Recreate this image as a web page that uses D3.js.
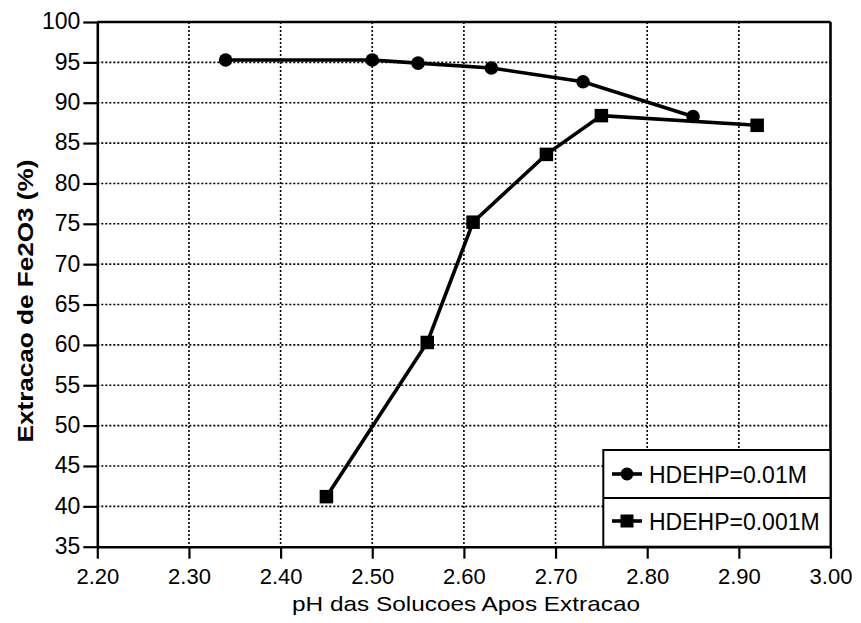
<!DOCTYPE html>
<html>
<head>
<meta charset="utf-8">
<script src="https://cdn.jsdelivr.net/npm/d3@7"></script>
<style>
  html, body { margin: 0; padding: 0; background: #fff; }
  svg { display: block; }
  text { font-family: "Liberation Sans", Arial, sans-serif; fill: #000; }
</style>
</head>
<body>
<svg id="chart" width="861" height="623"></svg>
<script>
// Extraction of Fe2O3 vs. solution pH for two HDEHP concentrations
const xTicks = [2.20, 2.30, 2.40, 2.50, 2.60, 2.70, 2.80, 2.90, 3.00];
const yTicks = [35, 40, 45, 50, 55, 60, 65, 70, 75, 80, 85, 90, 95, 100];

const seriesNames = ["HDEHP=0.01M", "HDEHP=0.001M"];
const phA = [2.34, 2.50, 2.55, 2.63, 2.73, 2.85];
const extA = [95.3, 95.3, 94.9, 94.3, 92.6, 88.3];
const phB = [2.45, 2.56, 2.61, 2.69, 2.75, 2.92];
const extB = [41.2, 60.3, 75.2, 83.6, 88.4, 87.2];

const xTitle = "pH das Solucoes Apos Extracao";
const yTitle = "Extracao de Fe2O3 (%)";

const svg = d3.select("#chart");
const L = 97.3, R = 830.5, T = 22, B = 546.7;

const x = d3.scaleLinear().domain([2.2, 3.0]).range([L, R]);
const y = d3.scaleLinear().domain([35, 100]).range([B, T]);

// dotted grid
const grid = svg.append("g");
grid.selectAll("line.v")
  .data(xTicks.filter(v => v > 2.2 + 1e-9 && v < 3.0 - 1e-9))
  .join("line")
  .attr("x1", d => x(d)).attr("x2", d => x(d))
  .attr("y1", T).attr("y2", B)
  .attr("stroke", "#000").attr("stroke-width", 1.6)
  .attr("stroke-dasharray", "2,2");
grid.selectAll("line.h")
  .data(yTicks.filter(v => v > 35 && v < 100))
  .join("line")
  .attr("x1", L).attr("x2", R)
  .attr("y1", d => y(d)).attr("y2", d => y(d))
  .attr("stroke", "#000").attr("stroke-width", 1.6)
  .attr("stroke-dasharray", "2,2");

// axes
const xAxis = d3.axisBottom(x).tickValues(xTicks).tickFormat(d3.format(".2f"))
  .tickSizeInner(12).tickSizeOuter(0).tickPadding(10);
const yAxis = d3.axisLeft(y).tickValues(yTicks).tickFormat(d3.format("d"))
  .tickSizeInner(14).tickSizeOuter(0).tickPadding(3);

const gx = svg.append("g").attr("transform", `translate(0,${B})`).call(xAxis);
const gy = svg.append("g").attr("transform", `translate(${L},0)`).call(yAxis);
[gx, gy].forEach(g => {
  g.select(".domain").attr("stroke", "#000").attr("stroke-width", 2.6);
  g.selectAll(".tick line").attr("stroke", "#000").attr("stroke-width", 2.2);
  g.selectAll(".tick text").attr("font-size", 22)
    .attr("font-family", "'Liberation Sans', Arial, sans-serif").attr("fill", "#000");
});
gy.selectAll(".tick text").attr("font-size", 23).attr("dy", "0.3em");

// frame top and right
svg.append("line").attr("x1", L).attr("x2", R).attr("y1", T).attr("y2", T)
  .attr("stroke", "#000").attr("stroke-width", 2.4);
svg.append("line").attr("x1", R).attr("x2", R).attr("y1", T).attr("y2", B)
  .attr("stroke", "#000").attr("stroke-width", 2.6);

// series
const line = d3.line().x(d => x(d[0])).y(d => y(d[1]));
const dataA = phA.map((p, i) => [p, extA[i]]);
const dataB = phB.map((p, i) => [p, extB[i]]);

svg.append("path").datum(dataA).attr("d", line)
  .attr("fill", "none").attr("stroke", "#000").attr("stroke-width", 3.6);
svg.append("path").datum(dataB).attr("d", line)
  .attr("fill", "none").attr("stroke", "#000").attr("stroke-width", 3.6);

svg.selectAll("circle.mA").data(dataA).join("circle")
  .attr("cx", d => x(d[0])).attr("cy", d => y(d[1])).attr("r", 6.8).attr("fill", "#000");
const sq = 13.5;
svg.selectAll("rect.mB").data(dataB).join("rect")
  .attr("x", d => x(d[0]) - sq / 2).attr("y", d => y(d[1]) - sq / 2)
  .attr("width", sq).attr("height", sq).attr("fill", "#000");

// axis titles
svg.append("text")
  .attr("x", 466).attr("y", 611)
  .attr("text-anchor", "middle")
  .attr("font-size", 21)
  .attr("textLength", 348).attr("lengthAdjust", "spacingAndGlyphs")
  .text(xTitle);
svg.append("text")
  .attr("transform", "translate(33,301) rotate(-90)")
  .attr("text-anchor", "middle")
  .attr("font-size", 22).attr("font-weight", "bold")
  .attr("textLength", 283).attr("lengthAdjust", "spacingAndGlyphs")
  .text(yTitle);

// legend
const lg = svg.append("g");
const lx0 = 603.3, lx1 = R, ly0 = 450, ly1 = B, lmid = 498;
lg.append("rect").attr("x", lx0).attr("y", ly0).attr("width", lx1 - lx0).attr("height", ly1 - ly0)
  .attr("fill", "#fff").attr("stroke", "#000").attr("stroke-width", 2);
lg.append("line").attr("x1", lx0).attr("x2", lx1).attr("y1", lmid).attr("y2", lmid)
  .attr("stroke", "#000").attr("stroke-width", 2);
const rows = [474, 521];
seriesNames.forEach((name, i) => {
  const cy = rows[i];
  lg.append("line").attr("x1", 612).attr("x2", 642).attr("y1", cy).attr("y2", cy)
    .attr("stroke", "#000").attr("stroke-width", 3.6);
  if (i === 0) {
    lg.append("circle").attr("cx", 627).attr("cy", cy).attr("r", 6.5).attr("fill", "#000");
  } else {
    lg.append("rect").attr("x", 627 - 6.5).attr("y", cy - 6.5).attr("width", 13).attr("height", 13).attr("fill", "#000");
  }
  lg.append("text").attr("x", 649).attr("y", cy + 8.5)
    .attr("font-size", 23).text(name);
});
</script>
</body>
</html>
